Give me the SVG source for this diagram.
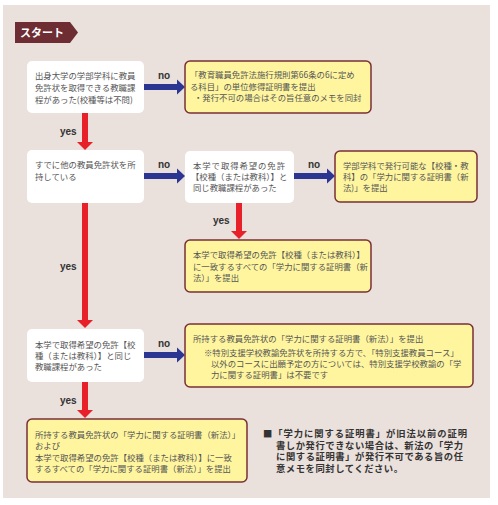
<svg xmlns="http://www.w3.org/2000/svg" width="498" height="505" viewBox="0 0 498 505">
<style>
.t{font-family:"Noto Sans CJK JP","Noto Sans CJK SC",sans-serif;font-size:8.4px;fill:#555}
.w{fill:#fff}
.y{fill:#FFF59E;stroke:#7A2F36;stroke-width:1.5}
.lb{font-family:"Liberation Sans",Arial,sans-serif;font-weight:bold;font-size:10px;fill:#333}
.note{font-family:"Noto Sans CJK JP",sans-serif;font-weight:bold;font-size:9.3px;fill:#333}
.red{fill:#E8202A}
.blue{fill:#2B3592}
</style>
<rect x="3" y="5" width="487" height="493" fill="#EAE0DC"/>
<g id="start">
<polygon points="15,22 70,22 78,32.5 70,43 15,43" fill="#6E2C33"/>
<text x="20" y="37" font-family="Noto Sans CJK JP,sans-serif" font-weight="bold" font-size="11" fill="#fff">スタート</text>
</g>
<g id="connectors">
<rect class="blue" x="144" y="84" width="34" height="6"/><polygon class="blue" points="177,79.5 185,87 177,94.5"/>
<text class="lb" x="158" y="79">no</text>
<rect class="red" x="82" y="113" width="6" height="30"/><polygon class="red" points="77,142 93,142 85,150"/>
<text class="lb" x="60" y="135">yes</text>
<rect class="blue" x="144" y="173" width="34" height="6"/><polygon class="blue" points="177,168.5 185,176 177,183.5"/>
<text class="lb" x="158" y="168">no</text>
<rect class="blue" x="294" y="173" width="34" height="6"/><polygon class="blue" points="327,168.5 335,176 327,183.5"/>
<text class="lb" x="308" y="168">no</text>
<rect class="red" x="236" y="203" width="6" height="29"/><polygon class="red" points="231,231 247,231 239,239"/>
<text class="lb" x="213" y="224">yes</text>
<rect class="red" x="82" y="203" width="6" height="118"/><polygon class="red" points="77,320 93,320 85,328"/>
<text class="lb" x="60" y="270">yes</text>
<rect class="blue" x="144" y="352" width="34" height="6"/><polygon class="blue" points="177,347.5 185,355 177,362.5"/>
<text class="lb" x="158" y="347">no</text>
<rect class="red" x="82" y="382" width="6" height="29"/><polygon class="red" points="77,410 93,410 85,418"/>
<text class="lb" x="60" y="404">yes</text>
</g>
<g id="q1">
<rect class="w" x="27" y="61" width="117" height="52" rx="5"/>
<text class="t" x="35" y="79">出身大学の学部学科に教員</text>
<text class="t" x="35" y="91">免許状を取得できる教職課</text>
<text class="t" x="35" y="103">程があった(校種等は不問)</text>
</g>
<g id="a1">
<rect class="y" x="185" y="61" width="186" height="52" rx="5"/>
<text class="t" x="190" y="78">「教育職員免許法施行規則第66条の6に定め</text>
<text class="t" x="190" y="90">る科目」の単位修得証明書を提出</text>
<text class="t" x="194" y="101">・発行不可の場合はその旨任意のメモを同封</text>
</g>
<g id="q2">
<rect class="w" x="27" y="150" width="117" height="53" rx="5"/>
<text class="t" x="35" y="168">すでに他の教員免許状を所</text>
<text class="t" x="35" y="180">持している</text>
</g>
<g id="q3">
<rect class="w" x="185" y="151" width="109" height="52" rx="5"/>
<text class="t" x="193" y="169" textLength="92">本学で取得希望の免許</text>
<text class="t" x="191" y="180">【校種（または教科）】と</text>
<text class="t" x="193" y="191">同じ教職課程があった</text>
</g>
<g id="a2">
<rect class="y" x="335" y="151" width="142" height="51" rx="5"/>
<text class="t" x="343" y="169">学部学科で発行可能な【校種・教</text>
<text class="t" x="343" y="180">科】の「学力に関する証明書（新</text>
<text class="t" x="343" y="191">法)」を提出</text>
</g>
<g id="a3">
<rect class="y" x="185" y="240" width="186" height="52" rx="5"/>
<text class="t" x="193" y="258">本学で取得希望の免許【校種（または教科）】</text>
<text class="t" x="193" y="270">に一致するすべての「学力に関する証明書（新</text>
<text class="t" x="193" y="281">法）」を提出</text>
</g>
<g id="q4">
<rect class="w" x="27" y="329" width="117" height="53" rx="5"/>
<text class="t" x="35" y="348">本学で取得希望の免許【校</text>
<text class="t" x="35" y="359">種（または教科）】と同じ</text>
<text class="t" x="35" y="370">教職課程があった</text>
</g>
<g id="a4">
<rect class="y" x="185" y="324" width="288" height="63" rx="5"/>
<text class="t" x="193" y="342">所持する教員免許状の「学力に関する証明書（新法）」を提出</text>
<text class="t" x="204" y="356">※特別支援学校教諭免許状を所持する方で、「特別支援教員コース」</text>
<text class="t" x="211" y="367">以外のコースに出願予定の方については、特別支援学校教諭の「学</text>
<text class="t" x="211" y="378">力に関する証明書」は不要です</text>
</g>
<g id="a5">
<rect class="y" x="27" y="419" width="220" height="63" rx="5"/>
<text class="t" x="35" y="437.5">所持する教員免許状の「学力に関する証明書（新法）」</text>
<text class="t" x="35" y="448.5">および</text>
<text class="t" x="35" y="460.5">本学で取得希望の免許【校種（または教科）】に一致</text>
<text class="t" x="35" y="471.5">するすべての「学力に関する証明書（新法）」を提出</text>
</g>
<g id="note">
<text class="note" x="263" y="437" textLength="204">■「学力に関する証明書」が旧法以前の証明</text>
<text class="note" x="276" y="448.5" textLength="187">書しか発行できない場合は、新法の「学力</text>
<text class="note" x="276" y="460" textLength="187">に関する証明書」が発行不可である旨の任</text>
<text class="note" x="276" y="471.5" textLength="127">意メモを同封してください。</text>
</g>
</svg>
